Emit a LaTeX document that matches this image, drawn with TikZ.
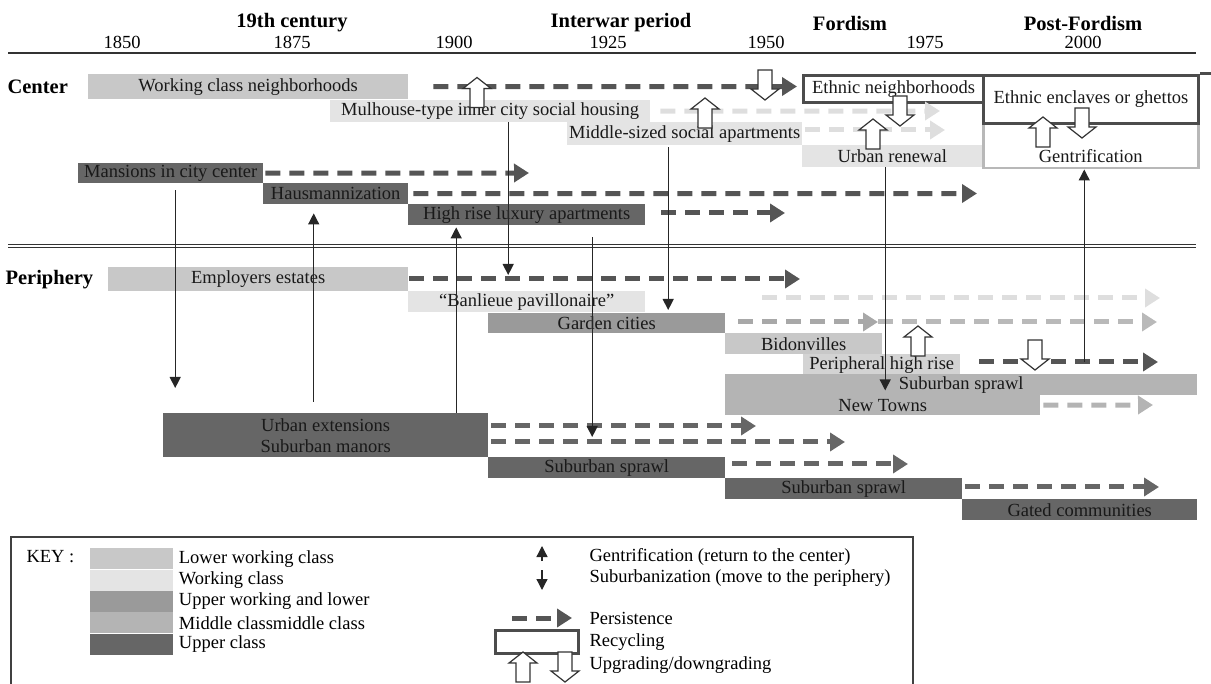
\documentclass[tikz,border=0pt]{standalone}
\usepackage{fontspec}
\setmainfont{Liberation Serif}
\usetikzlibrary{arrows.meta,positioning}

\definecolor{lowwork}{HTML}{C8C8C8}
\definecolor{work}{HTML}{E4E4E4}
\definecolor{upwork}{HTML}{9A9A9A}
\definecolor{midcl}{HTML}{B4B4B4}
\definecolor{upcl}{HTML}{666666}
\definecolor{persdark}{HTML}{555555}
\definecolor{perslight}{HTML}{DEDEDE}
\definecolor{persmid}{HTML}{A8A8A8}

\newcommand{\upgr}[1]{\draw[updown] (#1) ++(-7,15) -- ++(0,-19) -- ++(-7,0) -- ++(14,-11) -- ++(14,11) -- ++(-7,0) -- ++(0,19) -- cycle;}
\newcommand{\downgr}[1]{\draw[updown] (#1) ++(-7,-15) -- ++(0,19) -- ++(-7,0) -- ++(14,11) -- ++(14,-11) -- ++(-7,0) -- ++(0,-19) -- cycle;}

\begin{document}
\begin{tikzpicture}[
		x=1pt, y=-1pt,
		font=\fontsize{18.5}{21}\selectfont,
		area/.style={anchor=north west, inner sep=0pt, text=black!90},
		lowbox/.style={area, fill=lowwork},
		workbox/.style={area, fill=work},
		upworkbox/.style={area, fill=upwork},
		midbox/.style={area, fill=midcl},
		upbox/.style={area, fill=upcl},
		recyc/.style={area, fill=white, draw=black!70, line width=3pt},
		erahead/.style={font=\fontsize{20.5}{23}\selectfont\bfseries},
		persist/.style={draw=persdark, line width=5pt, dash pattern=on 15pt off 9pt, -{Triangle[length=15pt,width=18pt]}},
		move/.style={draw=black!85, line width=1.3pt, -{Triangle[length=11pt,width=11pt]}},
		updown/.style={draw=black!80, fill=white, line width=1.2pt},
		swatch/.style={anchor=north west, inner sep=0pt, minimum width=83pt, minimum height=21pt},
	]
		\useasboundingbox (0,0) rectangle (1211,684);

		\node (c19) [erahead] at (292,23) {19th century};
		\node (iwp) [erahead] at (621,23) {Interwar period};
		\node (ford) [erahead] at (850,23) {Fordism};
		\node (pford) [erahead] at (1083,23) {Post-Fordism};
		\node (y1850) at (122,42) {1850};
		\node (y1875) at (292,42) {1875};
		\node (y1900) at (454,42) {1900};
		\node (y1925) at (608,42) {1925};
		\node (y1950) at (766,42) {1950};
		\node (y1975) at (925,42) {1975};
		\node (y2000) at (1083,42) {2000};
		\draw[black!80, line width=1.5pt] (8,53) -- (1196,53);

		\node (ctr) [erahead, anchor=west] at (4,87) {Center};
		\node (wcn) [lowbox, minimum width=320pt, minimum height=25pt] at (88,74) {Working class neighborhoods};
		\node (mul) [workbox, minimum width=320pt, minimum height=22pt] at (330,100) {Mulhouse-type inner city social housing};
		\node (msa) [workbox, minimum width=235pt, minimum height=23pt] at (567,122) {Middle-sized social apartments};
		\node (ur) [workbox, minimum width=180pt, minimum height=22pt] at (802,145) {Urban renewal};
		\node (gen) [area, fill=white, draw=black!28, line width=2.5pt, minimum width=215pt, text height=37pt, text depth=4pt, inner ysep=2pt] at (982,122) {Gentrification};
		\node (en) [recyc, minimum width=180pt, minimum height=27pt] at (802,74) {Ethnic neighborhoods};
		\node (eeg) [recyc, minimum width=215pt, minimum height=48pt] at (982,74) {Ethnic enclaves or ghettos};
		\draw[black!70, line width=3pt] (eeg.north east) -- ++(20,0);
		\node (mans) [upbox, minimum width=185pt, minimum height=20pt] at (78,163) {Mansions in city center};
		\node (haus) [upbox, minimum width=145pt, minimum height=21pt] at (263,183) {Hausmannization};
		\node (hrl) [upbox, minimum width=237pt, minimum height=21pt] at (408,204) {High rise luxury apartments};

		\draw[double=white, double distance=1.8pt, line width=1.2pt, draw=black!80] (8,246) -- (1196,246);

		\node (per) [erahead, anchor=west] at (2,280) {Periphery};
		\node (ee) [lowbox, minimum width=300pt, minimum height=24pt] at (108,267) {Employers estates};
		\node (bp) [workbox, minimum width=237pt, minimum height=21pt] at (408,291) {“Banlieue pavillonaire”};
		\node (gc) [upworkbox, minimum width=237pt, minimum height=20pt] at (488,313) {Garden cities};
		\node (bid) [lowbox, minimum width=157pt, minimum height=21pt] at (725,333) {Bidonvilles};
		\node (phr) [area, fill=lowwork!80, minimum width=157pt, minimum height=21pt] at (803,354) {Peripheral high rise};
		\node (ssm) [midbox, minimum width=472pt, minimum height=21pt] at (725,374) {Suburban sprawl};
		\node (nt) [midbox, minimum width=315pt, minimum height=20pt] at (725,395) {New Towns};
		\node (ue) [upbox, align=center, minimum width=325pt, minimum height=44pt] at (163,413) {Urban extensions\\Suburban manors};
		\node (ss1) [upbox, minimum width=237pt, minimum height=21pt] at (488,457) {Suburban sprawl};
		\node (ss2) [upbox, minimum width=237pt, minimum height=21pt] at (725,478) {Suburban sprawl};
		\node (gcom) [upbox, minimum width=235pt, minimum height=21pt] at (962,499) {Gated communities};

		\coordinate (wcn-end) at (797,86.5);
		\coordinate (mul-end) at (940,111);
		\coordinate (msa-end) at (945,130);
		\coordinate (mans-end) at (529,173);
		\coordinate (haus-end) at (977,193.5);
		\coordinate (hrl-end) at (785,213);
		\coordinate (ee-end) at (800,279);
		\coordinate (bp-end) at (1160,298);
		\coordinate (gc-mid) at (878,322);
		\coordinate (gc-end) at (1157,322);
		\coordinate (phr-end) at (1158,362);
		\coordinate (nt-end) at (1153,405);
		\coordinate (uea-end) at (756,426);
		\coordinate (ueb-end) at (845,442);
		\coordinate (ss1-end) at (908,464);
		\coordinate (ss2-end) at (1159,487);

		\draw[persist, shorten <=25pt] (wcn.east) -- (wcn-end);
		\draw[persist, draw=perslight, shorten <=10pt] (mul.east) -- (mul-end);
		\draw[persist, draw=perslight, shorten <=3pt] (msa.east |- msa-end) -- (msa-end);
		\draw[persist, shorten <=2pt] (mans.east) -- (mans-end);
		\draw[persist, shorten <=5pt] (haus.east) -- (haus-end);
		\draw[persist, shorten <=16pt] (hrl.east |- hrl-end) -- (hrl-end);
		\draw[persist, shorten <=1pt] (ee.east |- ee-end) -- (ee-end);
		\draw[persist, draw=perslight, shorten <=117pt] (bp.east |- bp-end) -- (bp-end);
		\draw[persist, draw=persmid, shorten <=13pt] (gc.east |- gc-mid) -- (gc-mid);
		\draw[persist, draw=persmid!80] (gc-mid) -- (gc-end);
		\draw[persist, shorten <=19pt] (phr.east |- phr-end) -- (phr-end);
		\draw[persist, draw=midcl, shorten <=3pt] (nt.east) -- (nt-end);
		\draw[persist, draw=upcl, shorten <=3pt] (ue.east |- uea-end) -- (uea-end);
		\draw[persist, draw=upcl, shorten <=3pt] (ue.east |- ueb-end) -- (ueb-end);
		\draw[persist, draw=upcl, shorten <=7pt] (ss1.east |- ss1-end) -- (ss1-end);
		\draw[persist, draw=upcl, shorten <=3pt] (ss2.east |- ss2-end) -- (ss2-end);

		\upgr{477,92.5}
		\downgr{765,85}
		\upgr{705,113}
		\downgr{900,111}
		\upgr{873,134}
		\upgr{1043,132}
		\downgr{1082,123}
		\upgr{918,341}
		\downgr{1035,355}

		\draw[move, shorten <=7pt, shorten >=25pt] ([xshift=4.5pt]mans.south) -- ([xshift=4.5pt]mans.south |- ue.north);
		\draw[move, shorten <=11pt, shorten >=9pt] ([xshift=-22pt]haus.south |- ue.north) -- ([xshift=-22pt]haus.south);
		\draw[move, shorten >=2pt] ([xshift=-70.5pt]hrl.south |- ue.north) -- ([xshift=-70.5pt]hrl.south);
		\draw[move, shorten >=4pt] ([xshift=18pt]mul.south) -- ([xshift=18pt]mul.south |- ee-end);
		\draw[move, shorten <=12pt, shorten >=5pt] ([xshift=65.5pt]hrl.south) -- ([xshift=65.5pt]hrl.south |- ueb-end);
		\draw[move, shorten <=2pt, shorten >=3pt] ([xshift=-16.5pt]msa.south) -- ([xshift=-16.5pt]msa.south |- gc.north);
		\draw[move, shorten >=5pt] ([xshift=-7pt]ur.south) -- ([xshift=-7pt]ur.south |- ssm.south);
		\draw[move] ([xshift=-6.5pt]gen.south |- phr-end) -- ([xshift=-6.5pt]gen.south);

		\draw[black!75, line width=1.3pt] (11,537) rectangle (913,700);
		\node (key) [anchor=west] at (23,557) {KEY :};
		\node (sw1) [swatch, fill=lowwork] at (90,548) {};
		\node (sw2) [swatch, fill=work, below=0pt of sw1] {};
		\node (sw3) [swatch, fill=upwork, below=0pt of sw2] {};
		\node (sw4) [swatch, fill=midcl, below=0pt of sw3] {};
		\node (sw5) [swatch, fill=upcl, below=0pt of sw4] {};
		\node (kl1) [right=2pt of sw1] {Lower working class};
		\node (kl2) [right=2pt of sw2] {Working class};
		\node (kl3) [right=2pt of sw3] {Upper working and lower};
		\node (kl4) [right=2pt of sw4] {Middle classmiddle class};
		\node (kl5) [right=2pt of sw5] {Upper class};

		\node (kgen) [anchor=west] at (586,557) {Gentrification (return to the center)};
		\node (ksub) [anchor=west] at (586,578) {Suburbanization (move to the periphery)};
		\node (kper) [anchor=west] at (586,618) {Persistence};
		\node (krec) [anchor=west] at (586,642) {Recycling};
		\node (kupd) [anchor=west] at (586,665) {Upgrading/downgrading};
		\draw[move] ([xshift=-44pt,yshift=-4pt]kgen.west) -- ++(0,-15);
		\draw[move] ([xshift=-44pt,yshift=8pt]ksub.west) -- ++(0,20);
		\draw[persist] ([xshift=-74pt]kper.west) -- ([xshift=-14pt]kper.west);
		\node (krbox) [recyc, anchor=east, minimum width=83pt, minimum height=23pt] at ([xshift=-6pt]krec.west) {};
		\upgr{523,667}
		\downgr{565,667}
	\end{tikzpicture}
\end{document}
